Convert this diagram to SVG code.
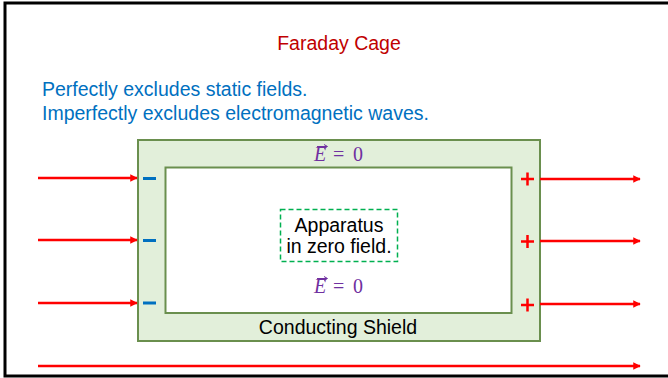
<svg xmlns="http://www.w3.org/2000/svg" width="668" height="378" viewBox="0 0 668 378">
<style>
.sans{font-family:"Liberation Sans",Arial,sans-serif}
.math{font-family:"Liberation Serif","Times New Roman",serif;font-size:20px;fill:#7030A0}
.vec{stroke:#7030A0;stroke-width:1;fill:none}
.arrow{stroke:#FF0000;stroke-width:2.5;fill:none;marker-end:url(#ah)}
.minus{stroke:#0070C0;stroke-width:3}
.plus{stroke:#FF0000;stroke-width:2.5}
</style>
<defs>
<marker id="ah" viewBox="0 0 10 10" refX="9" refY="5" markerWidth="3" markerHeight="3" orient="auto" markerUnits="strokeWidth">
<path d="M0,0 L10,5 L0,10 z" fill="#FF0000"/>
</marker>
</defs>
<rect width="668" height="378" fill="#FFFFFF"/>
<rect x="5" y="3" width="700" height="373" fill="none" stroke="#000000" stroke-width="3"/>
<g id="title"><text class="sans" x="339" y="50" font-size="19.5" fill="#C00000" text-anchor="middle">Faraday Cage</text></g>
<g id="subtitle" class="sans" font-size="19.5" fill="#0070C0">
<text x="42" y="96">Perfectly excludes static fields.</text>
<text x="42" y="120">Imperfectly excludes electromagnetic waves.</text>
</g>
<g id="shield">
<rect x="138" y="140" width="402" height="201" fill="#E2EFDA" stroke="#6A8F4E" stroke-width="2"/>
<rect x="165.5" y="167.5" width="346" height="145.5" fill="#FFFFFF" stroke="#6A8F4E" stroke-width="2"/>
<text class="sans" x="338" y="334" font-size="19.5" fill="#000000" text-anchor="middle">Conducting Shield</text>
</g>
<g id="field-top">
<text class="math" x="314" y="161" font-style="italic">E</text>
<text class="math" x="333" y="161">=</text>
<text class="math" x="353" y="161">0</text>
<path class="vec" d="M317,146.5 H327 M324,144.5 L327.5,146.5 L324,148.5"/>
</g>
<g id="apparatus">
<rect x="280.5" y="209.5" width="117" height="52" fill="#FFFFFF" stroke="#00B050" stroke-width="1.5" stroke-dasharray="5,3"/>
<text class="sans" x="339" y="232" font-size="19.5" fill="#000000" text-anchor="middle">Apparatus</text>
<text class="sans" x="339" y="253" font-size="19.5" fill="#000000" text-anchor="middle">in zero field.</text>
</g>
<g id="field-inner">
<text class="math" x="314" y="293" font-style="italic">E</text>
<text class="math" x="333" y="293">=</text>
<text class="math" x="353" y="293">0</text>
<path class="vec" d="M317,278.5 H327 M324,276.5 L327.5,278.5 L324,280.5"/>
</g>
<g id="charges">
<path class="minus" d="M143,178.5 H156 M143,240.5 H156 M143,303 H156"/>
<path class="plus" d="M521,179 H534 M527.5,172.5 V185.5 M521,241.5 H534 M527.5,235 V248 M521,305 H534 M527.5,298.5 V311.5"/>
</g>
<g id="connectors">
<path class="arrow" d="M38,178 H137"/>
<path class="arrow" d="M38,240 H137"/>
<path class="arrow" d="M38,303 H137"/>
<path class="arrow" d="M540,179 H640"/>
<path class="arrow" d="M540,241 H640"/>
<path class="arrow" d="M540,304 H640"/>
<path class="arrow" d="M38,366 H640"/>
</g>
</svg>
